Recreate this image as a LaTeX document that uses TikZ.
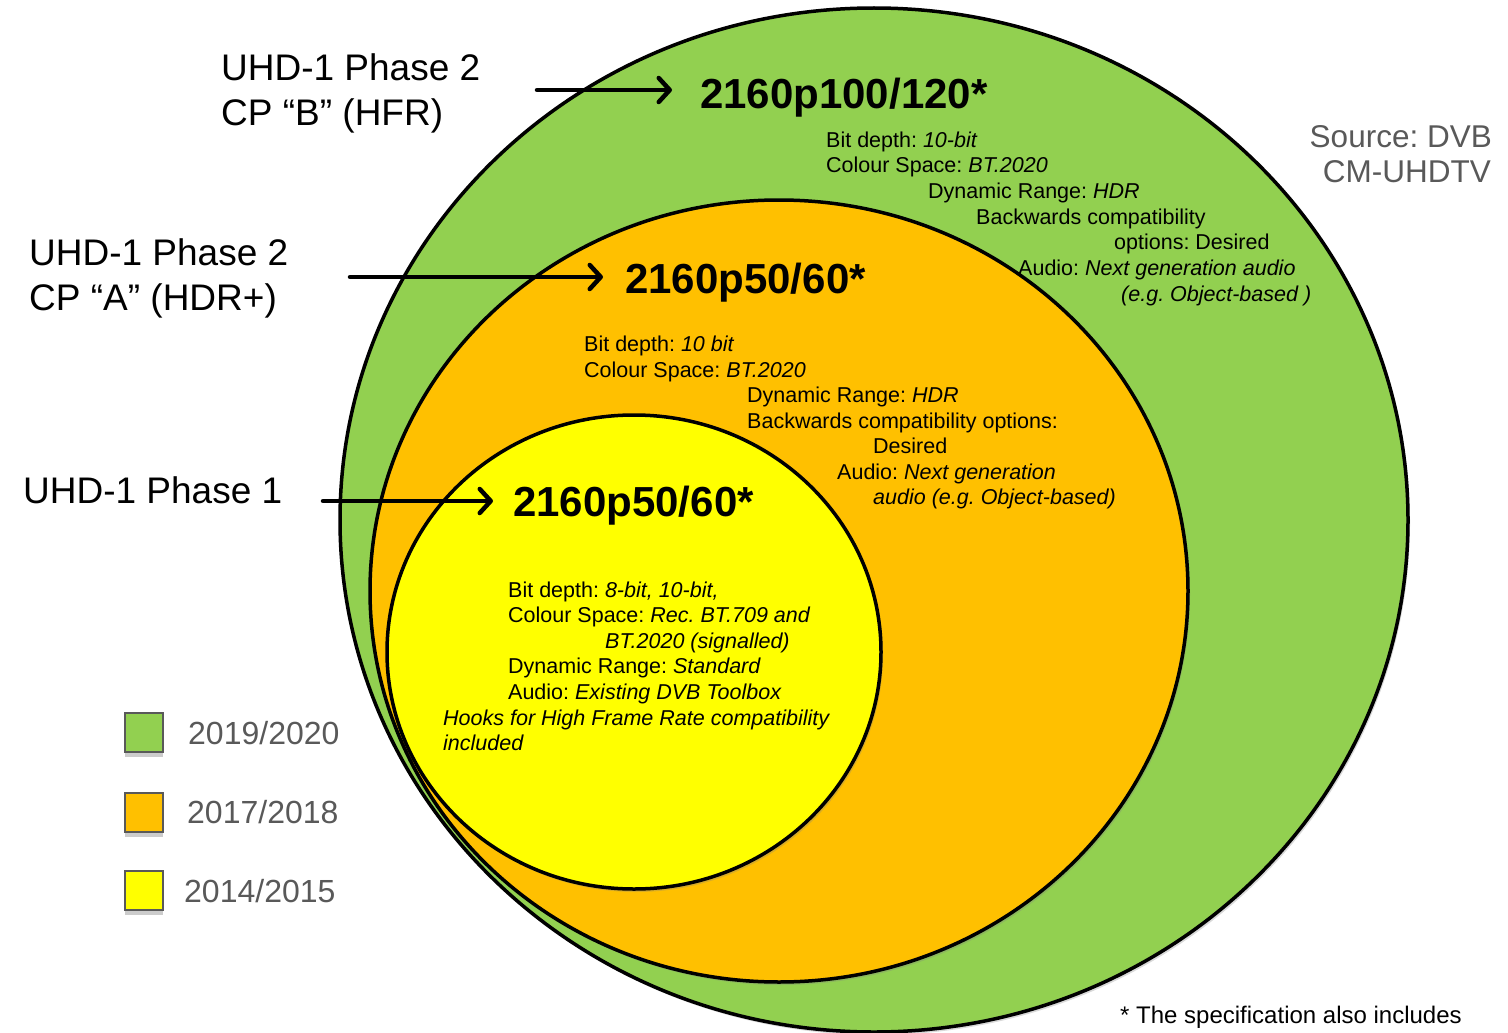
\documentclass[tikz,border=0pt]{standalone}
\usepackage{fontspec}
\setmainfont{Liberation Sans}
\usetikzlibrary{arrows.meta,shadows}
\definecolor{cgreen}{HTML}{92D050}
\definecolor{corange}{HTML}{FFC000}
\definecolor{cyellow}{HTML}{FFFF00}
\definecolor{cgray}{HTML}{595959}
\frenchspacing
\begin{document}
\begin{tikzpicture}[x=1pt,y=-1pt,
  disc/.style={draw=black,line width=3.5pt,
    drop shadow={opacity=0.3,shadow xshift=2pt,shadow yshift=-3pt}},
  lbl/.style={font=\fontsize{37}{45}\selectfont,anchor=base west,inner sep=0pt},
  ttl/.style={font=\fontsize{42}{50}\selectfont\bfseries,anchor=base west,inner sep=0pt},
  det/.style={font=\fontsize{21.5}{25.7}\selectfont,anchor=base west,inner sep=0pt},
  leg/.style={font=\fontsize{32}{38}\selectfont,text=cgray,anchor=base west,inner sep=0pt},
  src/.style={font=\fontsize{31.5}{38}\selectfont,text=cgray,anchor=base east,inner sep=0pt},
  legbox/.style={draw=cgray,line width=2pt,minimum width=38pt,minimum height=39pt,inner sep=0pt,
    drop shadow={opacity=0.4,shadow xshift=0pt,shadow yshift=-5pt}},
  arr/.style={line width=4.5pt,line cap=round,-{Straight Barb[round,length=11pt,width=24pt]}}
]
\useasboundingbox (0,0) rectangle (1508,1033);

% circles
\draw[disc,fill=cgreen] (874,520) ellipse [x radius=534, y radius=512];
\draw[disc,fill=corange] (779,591) ellipse [x radius=409, y radius=391];
\draw[disc,fill=cyellow] (634,652) ellipse [x radius=247, y radius=237];

% titles
\node[ttl] (t1) at (700,108) {2160p100/120*};
\node[ttl] (t2) at (625,293) {2160p50/60*};
\node[ttl] (t3) at (513,516) {2160p50/60*};

% left labels
\node[lbl] (l1a) at (221,81) {UHD-1 Phase 2};
\node[lbl] (l1b) at (221,125) {CP “B” (HFR)};
\node[lbl] (l2a) at (29,265) {UHD-1 Phase 2};
\node[lbl] (l2b) at (29,310) {CP “A” (HDR+)};
\node[lbl] (l3) at (23,503) {UHD-1 Phase 1};

% arrows
\coordinate (s1) at (537,90);
\coordinate (s2) at (350,277);
\coordinate (s3) at (323,501);
\draw[arr,shorten >=28pt] (s1) -- (s1 -| t1.west);
\draw[arr,shorten >=22pt] (s2) -- (s2 -| t2.west);
\draw[arr,shorten >=20pt] (s3) -- (s3 -| t3.west);

% green details
\node[det] (g1) at (826,147) {Bit depth: \textit{10-bit}};
\node[det] (g2) at (826,172.7) {Colour Space: \textit{BT.2020}};
\node[det] (g3) at (928,198.4) {Dynamic Range: \textit{HDR}};
\node[det] (g4) at (976,224.1) {Backwards compatibility};
\node[det] (g5) at (1114,249.8) {options: Desired};
\node[det] (g6) at (1018,275.5) {Audio: \textit{Next generation audio}};
\node[det] (g7) at (1121,301.2) {\textit{(e.g. Object-based )}};

% orange details
\node[det] (o1) at (584,351.5) {Bit depth: \textit{10 bit}};
\node[det] (o2) at (584,377) {Colour Space: \textit{BT.2020}};
\node[det] (o3) at (747,402.5) {Dynamic Range: \textit{HDR}};
\node[det] (o4) at (747,428) {Backwards compatibility options:};
\node[det] (o5) at (873,453.5) {Desired};
\node[det] (o6) at (837,479) {Audio: \textit{Next generation}};
\node[det] (o7) at (873,504.5) {\textit{audio (e.g. Object-based)}};

% yellow details
\node[det] (y1) at (508,597) {Bit depth: \textit{8-bit, 10-bit,}};
\node[det] (y2) at (508,622.6) {Colour Space: \textit{Rec. BT.709 and}};
\node[det] (y3) at (605,648.2) {\textit{BT.2020 (signalled)}};
\node[det] (y4) at (508,673.8) {Dynamic Range: \textit{Standard}};
\node[det] (y5) at (508,699.4) {Audio: \textit{Existing DVB Toolbox}};
\node[det] (y6) at (443,725) {\textit{Hooks for High Frame Rate compatibility}};
\node[det] (y7) at (443,750.6) {\textit{included}};

% source
\node[src] (src1) at (1492,147) {Source: DVB};
\node[src] (src2) at (1491,182) {CM-UHDTV};

% legend
\node[legbox,fill=cgreen] (k1) at (144,732.5) {};
\node[legbox,fill=corange] (k2) at (144,812.5) {};
\node[legbox,fill=cyellow] (k3) at (144,890) {};
\node[leg] (kt1) at (188,744) {2019/2020};
\node[leg] (kt2) at (187,823) {2017/2018};
\node[leg] (kt3) at (184,902) {2014/2015};

% footnote
\node[det,font=\fontsize{24}{28}\selectfont] (fn) at (1120,1023) {* The specification also includes};
\end{tikzpicture}
\end{document}
